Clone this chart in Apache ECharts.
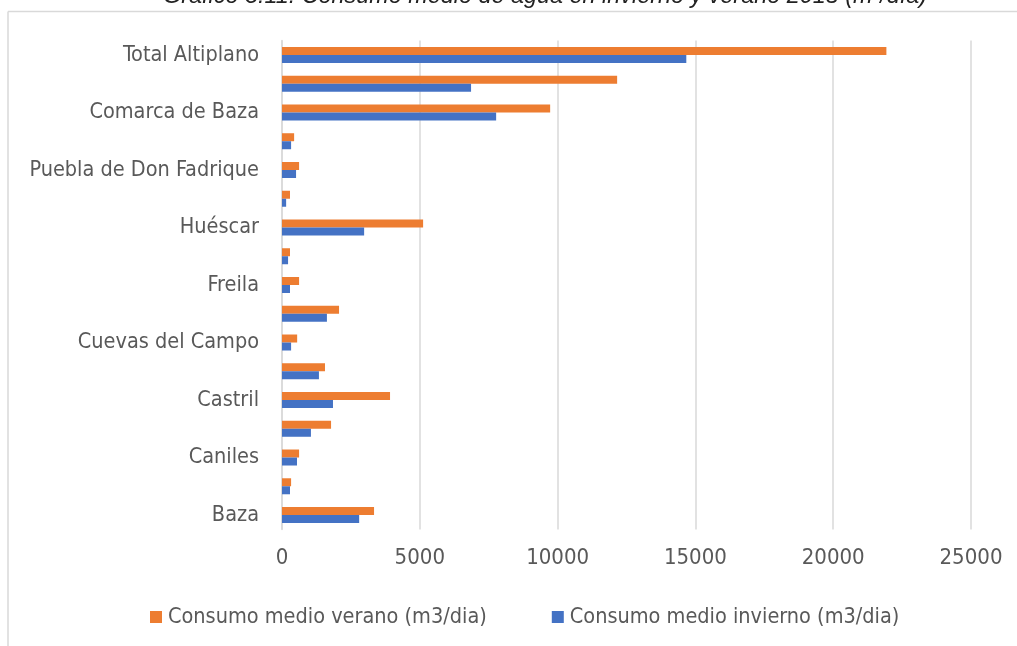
<!DOCTYPE html>
<html>
<head>
<meta charset="utf-8">
<script src="https://cdn.jsdelivr.net/npm/echarts@6/dist/echarts.min.js"></script>
<style>
html,body{margin:0;padding:0;background:#fff;}
#chart{width:1017px;height:646px;}
</style>
</head>
<body>
<div id="chart"></div>
<script>
var categories = ['Baza','Benamaurel','Caniles','Castilléjar','Castril','Cortes de Baza','Cuevas del Campo','Cúllar','Freila','Galera','Huéscar','Orce','Puebla de Don Fadrique','Zújar','Comarca de Baza','Comarca de Huéscar','Total Altiplano'];
var verano = [3340,330,620,1780,3920,1560,550,2070,620,290,5120,290,620,440,9730,12160,21930];
var invierno = [2800,290,545,1050,1850,1340,330,1630,290,220,2980,150,510,330,7770,6860,14670];
var xTicks = {min:0, max:25000, interval:5000};
var nameVerano = 'Consumo medio verano (m3/dia)';
var nameInvierno = 'Consumo medio invierno (m3/dia)';
var titleText = 'Gráfico 3.11. Consumo medio de agua en invierno y verano 2015 (m³/día)';

var labelFont = '"Liberation Sans Narrow", "DejaVu Sans Condensed", sans-serif';
var chart = echarts.init(document.getElementById('chart'), null, {renderer:'canvas'});
chart.setOption({
  animation:false,
  backgroundColor:'#ffffff',
  title:{
    text:titleText, left:163, top:-15, padding:0,
    textStyle:{fontFamily:'"Liberation Sans", sans-serif', fontStyle:'italic', fontWeight:'normal', fontSize:23.4, color:'#222'}
  },
  graphic:[
    {type:'line', shape:{x1:8, y1:11.5, x2:1017, y2:11.5}, style:{stroke:'#d9d9d9', lineWidth:1.5}, silent:true, z:100},
    {type:'line', shape:{x1:8, y1:11.5, x2:8, y2:646}, style:{stroke:'#d9d9d9', lineWidth:1.5}, silent:true}
  ],
  legend:{
    data:[nameVerano, nameInvierno],
    left:150, top:606, padding:0, itemWidth:12, itemHeight:12, itemGap:65,
    icon:'rect',
    textStyle:{fontFamily:labelFont, fontSize:21.5, color:'#595959', padding:[0,0,0,1]}
  },
  grid:{left:282, right:46, top:40.6, bottom:116.6, containLabel:false},
  xAxis:{
    type:'value', min:xTicks.min, max:xTicks.max, interval:xTicks.interval,
    axisLine:{show:false}, axisTick:{show:false},
    splitLine:{lineStyle:{color:'#d9d9d9', width:1.5}},
    axisLabel:{fontFamily:labelFont, fontSize:22, color:'#595959', margin:18, formatter:function(v){return String(v);}}
  },
  yAxis:{
    type:'category', data:categories,
    axisLine:{lineStyle:{color:'#d9d9d9', width:1.5}}, axisTick:{show:false},
    axisLabel:{interval:1, fontFamily:labelFont, fontSize:21.5, color:'#595959', margin:23}
  },
  series:[
    {name:nameVerano, type:'bar', data:verano, barWidth:8, barGap:'0%', itemStyle:{color:'#ED7D31'}},
    {name:nameInvierno, type:'bar', data:invierno, barWidth:8, barGap:'0%', itemStyle:{color:'#4472C4'}}
  ]
});
</script>
</body>
</html>
